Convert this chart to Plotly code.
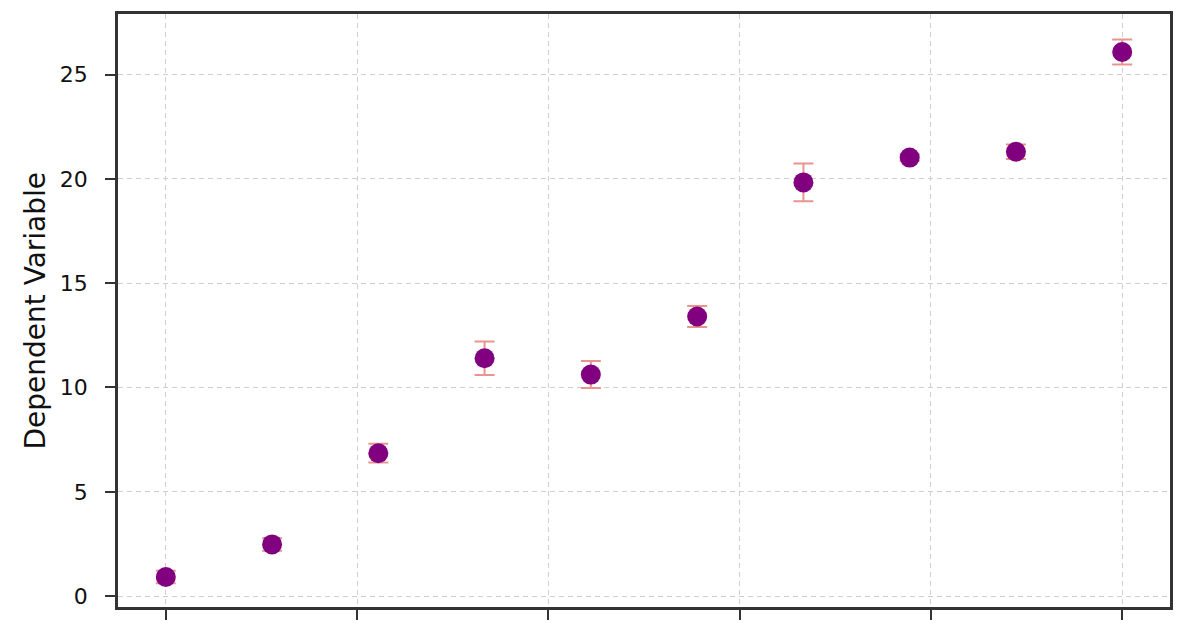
import plotly.graph_objects as go

# data
x_values = [0.0, 1.111, 2.222, 3.333, 4.444, 5.556, 6.667, 7.778, 8.889, 10.0]
y_values = [0.92, 2.48, 6.85, 11.4, 10.62, 13.4, 19.83, 21.02, 21.3, 26.08]
y_errors = [0.3, 0.3, 0.45, 0.8, 0.65, 0.5, 0.9, 0.15, 0.35, 0.6]
x_ticks = [0, 2, 4, 6, 8, 10]
y_ticks = [0, 5, 10, 15, 20, 25]

Y_LABEL = "Dependent Variable"

FONT = "DejaVu Sans, Liberation Sans, sans-serif"


def main():
    fig = go.Figure()
    fig.add_trace(
        go.Scatter(
            x=x_values,
            y=y_values,
            mode="markers",
            marker=dict(color="purple", size=20, line=dict(color="purple", width=0)),
            error_y=dict(
                type="data",
                array=y_errors,
                visible=True,
                color="#e8958f",
                thickness=2,
                width=10,
            ),
            showlegend=False,
        )
    )

    axis_common = dict(
        automargin=False,
        showline=True,
        linecolor="#333333",
        linewidth=2.5,
        mirror=True,
        ticks="outside",
        ticklen=10,
        tickwidth=2,
        tickcolor="#333333",
        showgrid=True,
        gridcolor="#cfcfcf",
        gridwidth=1.2,
        griddash="5px,4px",
        zeroline=False,
        tickfont=dict(family=FONT, size=22, color="#111111"),
    )

    # the page body has an 8px offset, margins are set relative to the figure
    fig.update_layout(
        width=1196,
        height=628,
        margin=dict(l=110, r=34, t=6, b=29),
        paper_bgcolor="white",
        plot_bgcolor="white",
        font=dict(family=FONT, color="#111111"),
        xaxis=dict(
            range=[-0.5, 10.5],
            tickvals=x_ticks,
            ticklabelstandoff=14,
            **axis_common,
        ),
        yaxis=dict(
            range=[-0.52, 27.9],
            tickvals=y_ticks,
            ticklabelstandoff=13,
            **axis_common,
        ),
        annotations=[
            # y axis label, placed by hand
            dict(
                text=Y_LABEL,
                xref="paper",
                yref="paper",
                x=0,
                y=0.5,
                xshift=-83,
                xanchor="center",
                yanchor="middle",
                textangle=-90,
                showarrow=False,
                font=dict(family=FONT, size=28, color="#111111"),
            )
        ],
    )
    fig.write_html("out.html")


if __name__ == "__main__":
    main()
